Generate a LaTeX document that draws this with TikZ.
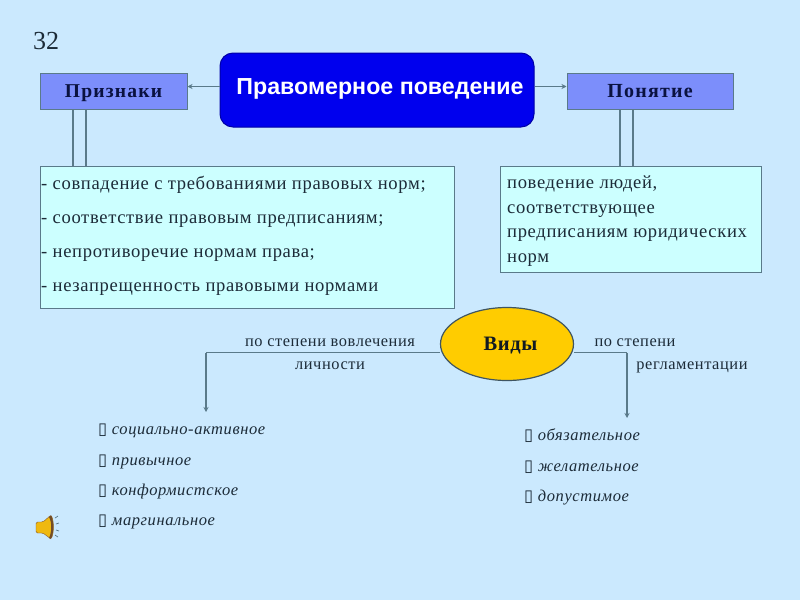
\documentclass[tikz,border=0pt]{standalone}
\usepackage{fontspec}
\setmainfont{Liberation Serif}
\setsansfont{Liberation Sans}
\newfontfamily\symfont{DejaVu Sans}
\usetikzlibrary{arrows.meta,shapes.geometric}
\definecolor{bgc}{HTML}{CBE9FE}
\definecolor{boxc}{HTML}{CCFFFF}
\definecolor{headc}{HTML}{7C8EFB}
\definecolor{mainc}{HTML}{0000EE}
\definecolor{ellc}{HTML}{FFCC00}
\definecolor{linec}{HTML}{5A7A8A}
\definecolor{txtc}{HTML}{1C2B38}
\definecolor{headt}{HTML}{0A1240}
\tikzset{
 headbox/.style={draw=linec,line width=1pt,fill=headc,text=headt,font=\fontsize{19.6}{22}\selectfont\bfseries\addfontfeatures{LetterSpace=6},inner sep=0pt,minimum height=36pt,text height=13pt,text depth=0pt},
 infobox/.style={draw=linec,line width=1pt,fill=boxc,inner sep=0pt},
 conn/.style={draw=linec,line width=1.1pt},
 arr/.style={conn,-{Stealth[length=5pt,width=5pt]}},
 lab/.style={text=txtc,font=\fontsize{16.4}{18}\selectfont\addfontfeatures{LetterSpace=3.5},inner sep=0pt,anchor=base},
 body/.style={text=txtc,font=\fontsize{18.6}{20}\selectfont\addfontfeatures{LetterSpace=3.5},inner sep=0pt,anchor=base west},
 item/.style={text=txtc,font=\fontsize{16.5}{19}\selectfont\itshape\addfontfeatures{LetterSpace=3.5},inner sep=0pt,anchor=base west},
}
\newcommand{\tofu}{{\symfont\upshape\char"25AF}}
\begin{document}
\begin{tikzpicture}[x=1pt,y=-1pt]
\useasboundingbox (0,0) rectangle (800,600);
\fill[bgc] (0,0) rectangle (800,600);
\node[text=txtc,font=\fontsize{26}{30}\selectfont,inner sep=0pt,anchor=base west] (num) at (33,49) {32};
\node[draw=mainc!70!black,line width=1pt,fill=mainc,rounded corners=13pt,minimum width=314pt,minimum height=74pt,inner sep=0pt] (main) at (377,90) {};
\node[text=white,font=\fontsize{23.2}{26}\selectfont\sffamily\bfseries,inner sep=0pt,anchor=base] (maint) at (380,94) {Правомерное поведение};
\node[headbox,minimum width=147pt] (pr) at (113.5,91) {Признаки};
\node[headbox,minimum width=166pt,font=\fontsize{20}{22}\selectfont\bfseries\addfontfeatures{LetterSpace=6}] (pon) at (650,91) {Понятие};
\node[infobox,minimum width=414pt,minimum height=142pt] (lbox) at (247,237) {};
\node[infobox,minimum width=261pt,minimum height=106pt] (rbox) at (630.5,219) {};
\coordinate (ay) at (0,86.5);
\draw[arr] (main.west |- ay) -- (pr.east |- ay);
\draw[arr] (main.east |- ay) -- (pon.west |- ay);
\coordinate (l1) at (73,0);\coordinate (l2) at (86,0);
\coordinate (r1) at (620,0);\coordinate (r2) at (633,0);
\draw[conn] (l1 |- pr.south) -- (l1 |- lbox.north);
\draw[conn] (l2 |- pr.south) -- (l2 |- lbox.north);
\draw[conn] (r1 |- pon.south) -- (r1 |- rbox.north);
\draw[conn] (r2 |- pon.south) -- (r2 |- rbox.north);
\node[body] (t1) at (41,189) {- совпадение с требованиями правовых норм;};
\node[body] (t2) at (41,223) {- соответствие правовым предписаниям;};
\node[body] (t3) at (41,257) {- непротиворечие нормам права;};
\node[body] (t4) at (41,291) {- незапрещенность правовыми нормами};
\node[body] (u1) at (507,188) {поведение людей,};
\node[body] (u2) at (507,213) {соответствующее};
\node[body] (u3) at (507,237) {предписаниям юридических};
\node[body] (u4) at (507,262) {норм};
\node[ellipse,draw=linec!70!black,line width=1.2pt,fill=ellc,minimum width=133pt,minimum height=73pt,inner sep=0pt] (vid) at (507,344) {};
\node[text=txtc!60!black,font=\fontsize{20.5}{23}\selectfont\bfseries\addfontfeatures{LetterSpace=3},inner sep=0pt,anchor=base] (vidt) at (510.5,350) {Виды};
\coordinate (lcor) at (206,352.5);\coordinate (lend) at (206,412);
\coordinate (rcor) at (627,352.5);\coordinate (rend) at (627,418);
\draw[conn] (vid.west |- lcor) -- (lcor);
\draw[arr] (lcor) -- (lend);
\draw[conn] (vid.east |- rcor) -- (rcor);
\draw[arr] (rcor) -- (rend);
\node[lab] (a1) at (330,346) {по степени вовлечения};
\node[lab] (a2) at (330,369) {личности};
\node[lab] (b1) at (635,346) {по степени};
\node[lab] (b2) at (692,369) {регламентации};
\node[item] (i1) at (98,434) {\tofu\ социально-активное};
\node[item] (i2) at (98,465) {\tofu\ привычное};
\node[item] (i3) at (98,495) {\tofu\ конформистское};
\node[item] (i4) at (98,525) {\tofu\ маргинальное};
\node[item] (j1) at (524,440) {\tofu\ обязательное};
\node[item] (j2) at (524,471) {\tofu\ желательное};
\node[item] (j3) at (524,501) {\tofu\ допустимое};
% speaker icon
\fill[ellc!75!brown,draw=brown!70!black,line width=.4pt,rounded corners=1.5pt] (36,522) -- (43,522) -- (51,515) .. controls (54,521) and (54,533) .. (51,539) -- (43,533) -- (36,533) -- cycle;
\fill[brown!60!black] (51,515) .. controls (54,521) and (54,533) .. (51,539) -- (49,538) .. controls (52,532) and (52,522) .. (49,517) -- cycle;
\draw[linec,line width=.7pt] (55,518) -- (58,516) (56,524) -- (59,523) (56,530) -- (59,531) (55,535) -- (58,537);
\end{tikzpicture}
\end{document}
